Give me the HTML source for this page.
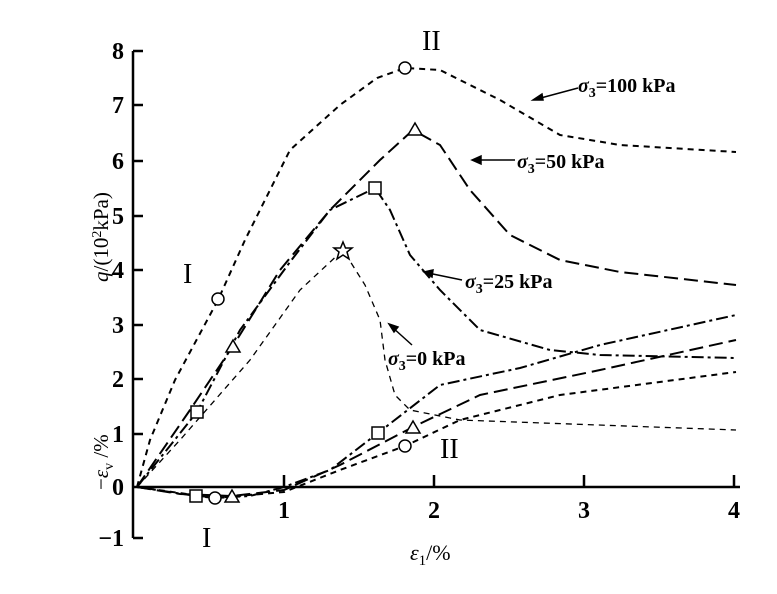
<!DOCTYPE html><html><head><style>body{margin:0;background:#fff}svg{font-family:"Liberation Serif",serif}</style></head><body>
<svg width="777" height="589" xmlns="http://www.w3.org/2000/svg" font-weight="bold">
<g stroke="#000" stroke-width="2.5" fill="none">
<line x1="133" y1="51" x2="133" y2="538"/>
<line x1="133" y1="487" x2="740" y2="487"/>
<path d="M133 51h10M133 105h10M133 161h10M133 216h10M133 270h10M133 325h10M133 379h10M133 434h10M133 538h10M284 487v-12M434 487v-12M584 487v-12M734 487v-12"/>
</g>
<g font-size="24" text-anchor="end">
<text x="124" y="59">8</text><text x="124" y="113">7</text><text x="124" y="169">6</text><text x="124" y="224">5</text><text x="124" y="278">4</text><text x="124" y="333">3</text><text x="124" y="387">2</text><text x="124" y="442">1</text><text x="124" y="495">0</text><text x="124" y="546">−1</text>
</g>
<g font-size="24" text-anchor="middle"><text x="284" y="518">1</text><text x="434" y="518">2</text><text x="584" y="518">3</text><text x="734" y="518">4</text></g>
<g fill="none" stroke="#000" stroke-width="2">
<path d="M137 487 L150 440 L175 380 L218 300 L245 240 L290 150 L340 105 L377 78 L405 68 L440 70 L500 100 L560 135 L620 145 L736 152" stroke-dasharray="6 5"/>
<path d="M137 487 L190 410 L233 346 L280 270 L330 210 L380 160 L413 130 L440 145 L470 190 L510 235 L560 260 L620 272 L736 285" stroke-dasharray="14 6"/>
<path d="M137 487 L197 412 L240 330 L290 262 L330 210 L375 188 L390 210 L410 255 L440 290 L480 330 L550 350 L600 355 L736 358" stroke-dasharray="12 4 3 4"/>
<path d="M137 487 L180 440 L250 360 L300 290 L343 250 L365 285 L380 320 L385 360 L395 395 L410 410 L460 420 L736 430" stroke-dasharray="6 5" stroke-width="1.3"/>
<path d="M137 487 L196 496 L215 498 L250 496 L284 487 L330 470 L378 433 L440 385 L520 368 L600 345 L736 315" stroke-dasharray="12 4 3 4"/>
<path d="M137 487 L180 494 L232 496 L284 490 L340 465 L413 427 L480 395 L600 370 L736 340" stroke-dasharray="14 6"/>
<path d="M137 487 L215 498 L284 492 L340 470 L405 446 L460 420 L560 395 L736 372" stroke-dasharray="6 5"/>
</g>
<g fill="#fff" stroke="#000" stroke-width="1.5">
<circle cx="218" cy="299" r="6"/><circle cx="405" cy="68" r="6"/><circle cx="215" cy="498" r="6"/><circle cx="405" cy="446" r="6"/>
<path d="M233 340 L240 352 L226 352Z M415 123 L422 135 L408 135Z M232 490 L239 502 L225 502Z M413 421 L420 433 L406 433Z"/>
<rect x="191" y="406" width="12" height="12"/><rect x="369" y="182" width="12" height="12"/><rect x="190" y="490" width="12" height="12"/><rect x="372" y="427" width="12" height="12"/>
<path d="M343 242 L345.5 248 L352 248 L347 252 L349 259 L343 255 L337 259 L339 252 L334 248 L340.5 248Z"/>
</g>
<g stroke="#000" stroke-width="1.5" fill="#000">
<line x1="578" y1="88" x2="537" y2="99"/><path d="M533 100 l9 -6 l1 6z"/>
<line x1="515" y1="160" x2="477" y2="160"/><path d="M472 160 l9 -4 v8z"/>
<line x1="462" y1="280" x2="428" y2="273"/><path d="M424 272 l9 -2 l-1 7z"/>
<line x1="412" y1="345" x2="392" y2="327"/><path d="M389 324 l9 3 l-4 5z"/>
</g>
<g font-size="20">
<text x="578" y="92"><tspan font-style="italic">σ</tspan><tspan font-size="14" dy="5">3</tspan><tspan dy="-5">=100 kPa</tspan></text>
<text x="517" y="168"><tspan font-style="italic">σ</tspan><tspan font-size="14" dy="5">3</tspan><tspan dy="-5">=50 kPa</tspan></text>
<text x="465" y="288"><tspan font-style="italic">σ</tspan><tspan font-size="14" dy="5">3</tspan><tspan dy="-5">=25 kPa</tspan></text>
<text x="388" y="365"><tspan font-style="italic">σ</tspan><tspan font-size="14" dy="5">3</tspan><tspan dy="-5">=0 kPa</tspan></text>
</g>
<g font-size="28" font-weight="normal">
<text x="422" y="50">II</text><text x="183" y="283">I</text><text x="202" y="547">I</text><text x="440" y="458">II</text>
</g>
<text x="410" y="560" font-size="22" font-weight="normal"><tspan font-style="italic">ε</tspan><tspan font-size="15" dy="5">1</tspan><tspan dy="-5">/%</tspan></text>
<text transform="translate(108,282) rotate(-90)" font-size="21" font-weight="normal"><tspan font-style="italic">q</tspan>/(10<tspan font-size="14" dy="-7">2</tspan><tspan dy="7">kPa)</tspan></text>
<text transform="translate(108,490) rotate(-90)" font-size="21" font-weight="normal">−<tspan font-style="italic">ε</tspan><tspan font-size="14" dy="5">v</tspan><tspan dy="-5"> /%</tspan></text>
</svg>
</body></html>
